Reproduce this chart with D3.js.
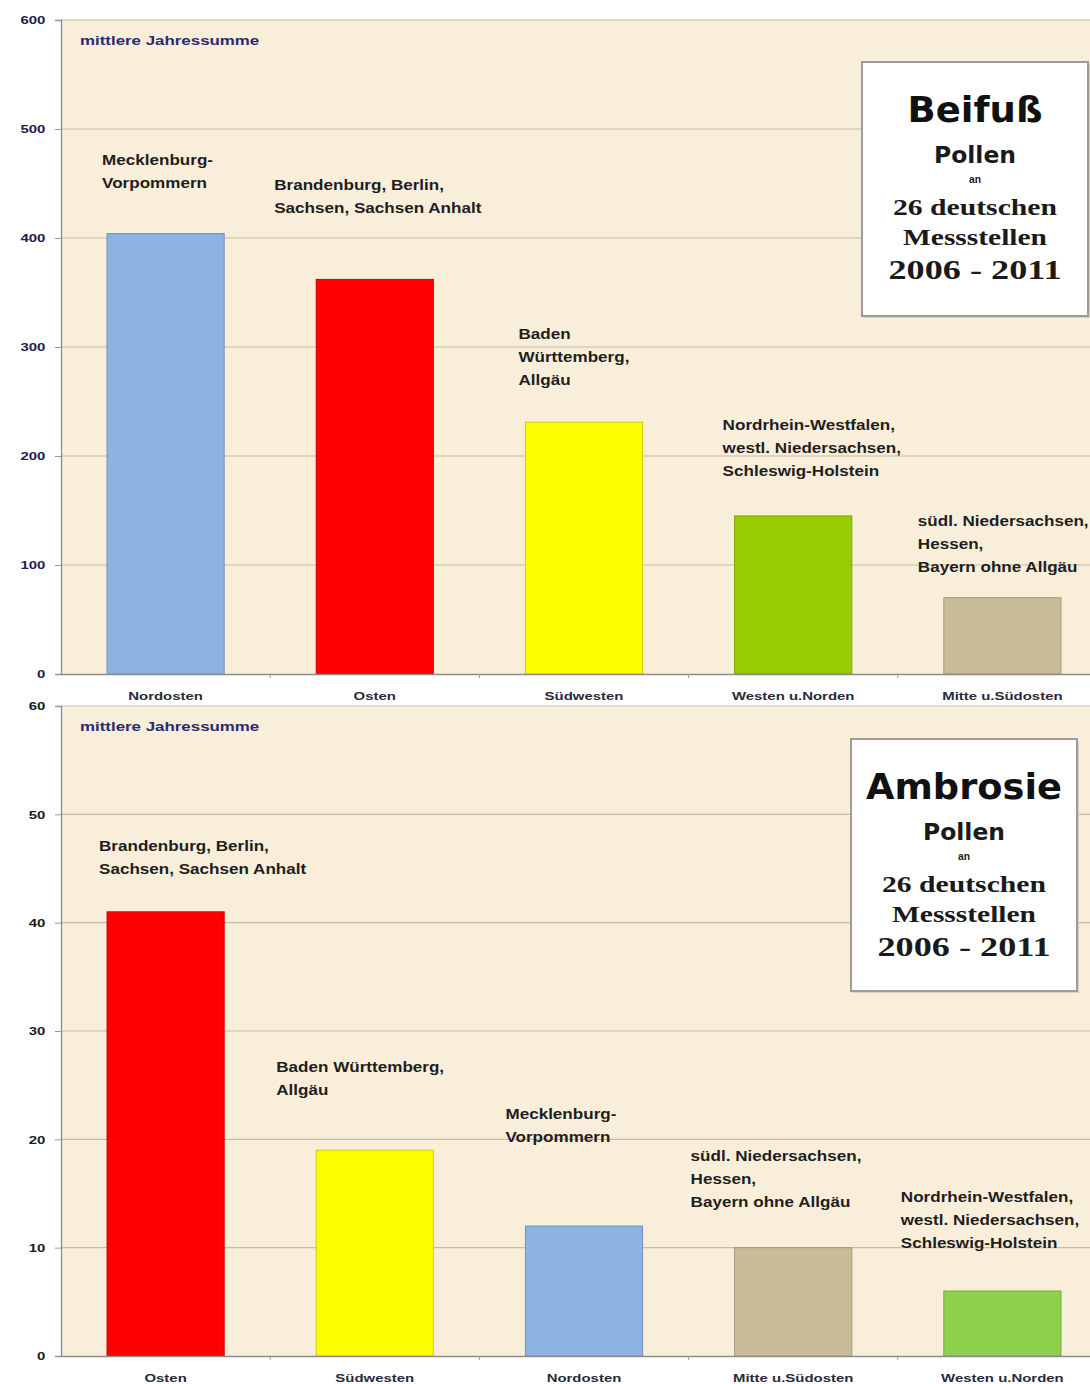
<!DOCTYPE html>
<html lang="de">
<head>
<meta charset="UTF-8">
<title>Beifuß und Ambrosie Pollen 2006 - 2011</title>
<script src="https://cdn.jsdelivr.net/npm/d3@7/dist/d3.min.js"></script>
<style>
    body { margin: 0; background: #fff; }
    svg { display: block; font-family: "Liberation Sans", Arial, sans-serif; }
</style>
</head>
<body>
<div id="chart"></div>
<script>
    // Beifuß (oberes Diagramm)
    const beifussCategories = ["Nordosten", "Osten", "Südwesten", "Westen u.Norden", "Mitte u.Südosten"];
    const beifussValues = [404, 362, 231, 145, 70];
    const beifussRegions = [
        ["Mecklenburg-", "Vorpommern"],
        ["Brandenburg, Berlin,", "Sachsen, Sachsen Anhalt"],
        ["Baden", "Württemberg,", "Allgäu"],
        ["Nordrhein-Westfalen,", "westl. Niedersachsen,", "Schleswig-Holstein"],
        ["südl. Niedersachsen,", "Hessen,", "Bayern ohne Allgäu"]
    ];
    const beifussTicks = [0, 100, 200, 300, 400, 500, 600];

    // Ambrosie (unteres Diagramm)
    const ambrosieCategories = ["Osten", "Südwesten", "Nordosten", "Mitte u.Südosten", "Westen u.Norden"];
    const ambrosieValues = [41, 19, 12, 10, 6];
    const ambrosieRegions = [
        ["Brandenburg, Berlin,", "Sachsen, Sachsen Anhalt"],
        ["Baden Württemberg,", "Allgäu"],
        ["Mecklenburg-", "Vorpommern"],
        ["südl. Niedersachsen,", "Hessen,", "Bayern ohne Allgäu"],
        ["Nordrhein-Westfalen,", "westl. Niedersachsen,", "Schleswig-Holstein"]
    ];
    const ambrosieTicks = [0, 10, 20, 30, 40, 50, 60];

    const yLabel = "mittlere Jahressumme";
    const subtitleLines = ["Pollen", "an", "26 deutschen", "Messstellen", "2006 - 2011"];

    const width = 1090, height = 1384;
    const axisX = 61;
    const stretch = 1.3; // Schrift im Original horizontal gestreckt

    const svg = d3.select("#chart").append("svg")
        .attr("width", width)
        .attr("height", height);

    // Panel-Layout (Positionen, Farben, Beschriftungs-Offsets)
    const panels = [
        {
            title: "Beifuß", categories: beifussCategories, values: beifussValues,
            regions: beifussRegions, ticks: beifussTicks,
            top: 20, bottom: 674, tickColor: "#1d1d4e",
            colors: ["#8db3e2", "#ff0000", "#ffff00", "#99cc00", "#c9bd98"],
            labelOffsets: [[-5, -74], [-42, -94], [-7, -88], [-12, -91], [-26, -77]],
            box: { x: 862, y: 62, w: 226, h: 254 }, titleWidth: 135
        },
        {
            title: "Ambrosie", categories: ambrosieCategories, values: ambrosieValues,
            regions: ambrosieRegions, ticks: ambrosieTicks,
            top: 706, bottom: 1356, tickColor: "#1a1a22",
            colors: ["#ff0000", "#ffff00", "#8db3e2", "#c9bd98", "#8fd14f"],
            labelOffsets: [[-8, -66], [-40, -83], [-20, -112], [-44, -92], [-43, -94]],
            box: { x: 851, y: 739, w: 226, h: 252 }, titleWidth: 196
        }
    ];

    panels.forEach(drawPanel);

    function drawPanel(p) {
        const y = d3.scaleLinear()
            .domain([0, d3.max(p.ticks)])
            .range([p.bottom, p.top]);

        const x = d3.scaleBand()
            .domain(p.categories)
            .range([axisX, 1107])
            .paddingInner(0.44)
            .paddingOuter(0.22);

        const color = d3.scaleOrdinal().domain(p.categories).range(p.colors);

        const g = svg.append("g");

        // Hintergrund der Zeichenfläche
        g.append("rect")
            .attr("x", axisX).attr("y", p.top)
            .attr("width", width - axisX).attr("height", p.bottom - p.top)
            .attr("fill", "#f9eed9");

        // Gitterlinien
        g.append("g")
            .selectAll("line")
            .data(p.ticks.filter(t => t > 0))
            .join("line")
            .attr("x1", axisX).attr("x2", width)
            .attr("y1", d => y(d)).attr("y2", d => y(d))
            .attr("stroke", "#c6bda9")
            .attr("stroke-width", 1.2);

        // y-Achse
        const yAxis = g.append("g")
            .attr("transform", `translate(${axisX},0)`)
            .call(d3.axisLeft(y).tickValues(p.ticks).tickSize(6).tickPadding(6).tickFormat(d3.format("d")));
        yAxis.select(".domain").attr("stroke", "#8c8c8c").attr("stroke-width", 1.3);
        yAxis.selectAll(".tick line").attr("stroke", "#9a9a9a");
        yAxis.selectAll(".tick text")
            .attr("font-size", 11.5)
            .attr("font-weight", "bold")
            .attr("fill", p.tickColor)
            .attr("transform", `scale(${stretch},1)`);

        // Balken
        g.append("g")
            .selectAll("rect")
            .data(p.categories.map((c, i) => ({ c, v: p.values[i] })))
            .join("rect")
            .attr("x", d => x(d.c))
            .attr("y", d => y(d.v))
            .attr("width", x.bandwidth())
            .attr("height", d => y(0) - y(d.v))
            .attr("fill", d => color(d.c))
            .attr("stroke", d => d3.color(color(d.c)).darker(0.6))
            .attr("stroke-width", 1);

        // x-Achse
        const xAxis = g.append("g")
            .attr("transform", `translate(0,${p.bottom})`)
            .call(d3.axisBottom(x).tickSize(0).tickPadding(18));
        xAxis.select(".domain").attr("stroke", "#8c8c8c").attr("stroke-width", 1.3);
        xAxis.selectAll(".tick text")
            .attr("font-size", 11.5)
            .attr("font-weight", "bold")
            .attr("fill", "#2a2a3a")
            .attr("transform", `scale(${stretch},1)`);

        // Trennstriche zwischen den Kategorien
        g.append("g")
            .selectAll("line")
            .data(p.categories.slice(1))
            .join("line")
            .attr("x1", d => x(d) - x.step() * 0.22)
            .attr("x2", d => x(d) - x.step() * 0.22)
            .attr("y1", p.bottom).attr("y2", p.bottom + 4)
            .attr("stroke", "#9a9a9a");

        // Achsenbeschriftung
        g.append("text")
            .attr("transform", `translate(80,${p.top + 25}) scale(${stretch},1)`)
            .attr("font-size", 13)
            .attr("font-weight", "bold")
            .attr("fill", "#2b2b6e")
            .text(yLabel);

        // Regionen über den Balken
        p.categories.forEach((c, i) => {
            const [dx, dy] = p.labelOffsets[i];
            const t = g.append("text")
                .attr("transform", `translate(${x(c) + dx},${y(p.values[i]) + dy + 5}) scale(1.22,1)`)
                .attr("font-size", 14)
                .attr("font-weight", "bold")
                .attr("fill", "#1e1e1e");
            t.selectAll("tspan")
                .data(p.regions[i])
                .join("tspan")
                .attr("x", 0)
                .attr("dy", (d, j) => j === 0 ? 0 : 23)
                .text(d => d);
        });

        // Titelkasten
        const b = p.box;
        const cx = b.x + b.w / 2;
        const box = g.append("g");
        box.append("rect")
            .attr("x", b.x + 2).attr("y", b.y + 2)
            .attr("width", b.w).attr("height", b.h)
            .attr("fill", "#d9d2c4");
        box.append("rect")
            .attr("x", b.x).attr("y", b.y)
            .attr("width", b.w).attr("height", b.h)
            .attr("fill", "#fff")
            .attr("stroke", "#9c9c9c")
            .attr("stroke-width", 2);

        box.append("text")
            .attr("x", cx).attr("y", b.y + 60)
            .attr("text-anchor", "middle")
            .attr("font-family", "'Comic Sans MS', 'DejaVu Sans', sans-serif")
            .attr("font-weight", "bold")
            .attr("font-size", 36)
            .attr("textLength", p.titleWidth)
            .attr("lengthAdjust", "spacingAndGlyphs")
            .attr("fill", "#111")
            .text(p.title);

        const lineStyle = [
            { dy: 101, size: 23, family: "'DejaVu Sans', Verdana, sans-serif", w: 82 },
            { dy: 121, size: 10, family: "'Liberation Sans', Arial, sans-serif", w: 12 },
            { dy: 153, size: 24, family: "'Liberation Serif', Georgia, serif", w: 164 },
            { dy: 183, size: 24, family: "'Liberation Serif', Georgia, serif", w: 144 },
            { dy: 217, size: 27, family: "'Liberation Serif', Georgia, serif", w: 173 }
        ];
        box.selectAll("text.sub")
            .data(subtitleLines)
            .join("text")
            .attr("class", "sub")
            .attr("x", cx)
            .attr("y", (d, i) => b.y + lineStyle[i].dy)
            .attr("text-anchor", "middle")
            .attr("font-family", (d, i) => lineStyle[i].family)
            .attr("font-size", (d, i) => lineStyle[i].size)
            .attr("font-weight", "bold")
            .attr("textLength", (d, i) => lineStyle[i].w)
            .attr("lengthAdjust", "spacingAndGlyphs")
            .attr("fill", "#1a1a1a")
            .text(d => d);
    }
</script>
</body>
</html>
